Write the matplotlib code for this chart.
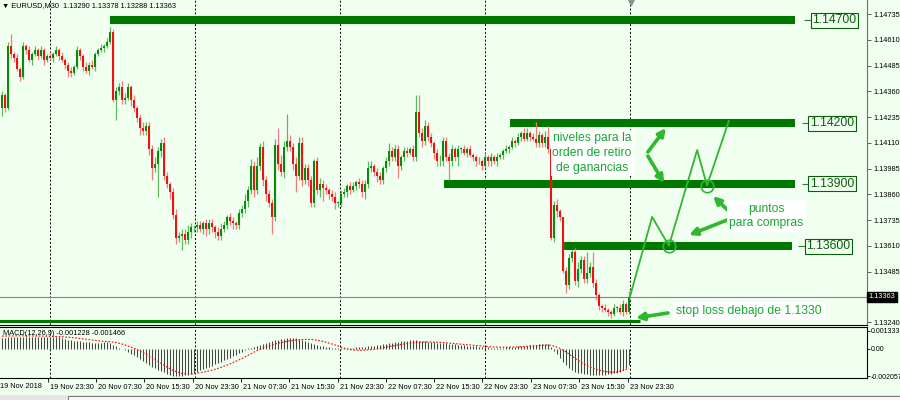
import numpy as np
import matplotlib
matplotlib.use('Agg')
import matplotlib.pyplot as plt
from matplotlib.transforms import ScaledTranslation
from matplotlib.patches import Rectangle

plt.rcParams['font.family'] = ['Liberation Sans', 'DejaVu Sans']

# ---------------------------------------------------------------------------
# Data (EURUSD M30), prices in pips above 1.1300
# ---------------------------------------------------------------------------
BASE = 1.1300
PIP = 0.0001

first_open = 128
close_pips = [
    134, 128, 158, 154, 152, 147, 143, 158, 156, 151, 154, 156, 153, 156, 151, 153, 152, 154, 156, 153,
    151, 149, 146, 145, 148, 156, 153, 148, 146, 149, 148, 154, 156, 157, 158, 160, 165, 132,
    136, 138, 132, 133, 138, 132, 128, 123, 118, 117, 119, 108, 99, 101, 107, 111, 95, 91, 87, 76,
    65, 66, 67, 64, 68, 70, 70, 71, 69, 72,
    69, 72, 70, 68, 66, 69, 71, 75, 73, 72, 71, 77, 79, 83, 88, 100, 88, 100, 109, 93,
    86, 82, 75, 110, 101, 97, 109, 112, 109, 101, 95, 111, 93,
    99, 93, 82, 102, 88, 91, 89, 88, 86, 85, 82, 82, 86, 87, 90, 88, 90, 92, 91, 87,
    91, 99, 100, 97, 95, 93, 99, 102, 107, 104, 108, 100, 104, 107, 106, 108, 104, 126,
    116, 112, 119, 114, 111, 106, 102, 102, 112, 104, 102, 108, 104, 108, 108, 106, 108, 105, 104, 102,
    102, 100, 104, 102, 104, 102, 104, 105, 107, 108, 109, 112, 111, 114, 116, 113, 116, 114, 113, 111,
    115, 111, 114, 108, 65,
    81, 78, 75, 49, 42, 55, 58, 44, 50, 54, 45, 48, 51, 43, 37, 32, 31, 30, 29, 28,
    31, 31, 29, 33, 29, 36.3,
]
upper_wick = [
    2, 1, 2, 6, 1, 2, 1, 2, 1, 2,  1, 2, 1, 2, 1, 1, 2, 1, 2, 1,
    2, 1, 1, 2, 1, 2, 1, 1, 2, 1,  2, 1, 1, 2, 1, 2, 2, 1, 2, 2,
    3, 2, 2, 1, 2, 1, 2, 3, 2, 2,  2, 3, 2, 2, 3, 2, 1, 2, 3, 2,
    2, 2, 3, 2, 1, 2, 2, 1, 2, 2,  2, 1, 2, 3, 2, 1, 2, 2, 1, 2,
    2, 3, 2, 3, 2, 4, 2, 3, 2, 2,  2, 3, 8, 4, 3, 13, 3, 2, 3, 3,
    3, 2, 2, 2, 1, 2, 3, 2, 2, 1,  2, 2, 1, 2, 2, 1, 2, 2, 1, 2,
    2, 2, 3, 2, 1, 2, 2, 1, 2, 4,  2, 2, 2, 1, 2, 2, 1, 2, 8, 8,
    2, 3, 2, 2, 1, 2, 3, 2, 2, 2,  2, 1, 2, 1, 2, 1, 2, 1, 1, 2,
    1, 2, 1, 2, 1, 2, 1, 1, 2, 1,  2, 1, 2, 1, 2, 2, 1, 2, 8, 2,
    1, 3, 5, 1, 2, 3, 1, 0, 2, 2,  1, 2, 3, 2, 2, 10, 2, 7, 2, 1,
    1, 2, 1, 1, 2, 1, 2, 2, 1, 3,
]
lower_wick = [
    4, 2, 1, 2, 2, 1, 2, 1, 2, 1,  2, 1, 2, 1, 2, 1, 1, 2, 1, 2,
    1, 2, 3, 2, 1, 1, 2, 2, 1, 2,  1, 2, 1, 1, 2, 1, 1, 1, 10, 2,
    2, 2, 1, 3, 2, 2, 3, 2, 2, 3,  6, 2, 16, 3, 2, 2, 3, 2, 3, 2,
    7, 2, 2, 3, 2, 2, 1, 2, 3, 2,  2, 3, 2, 2, 1, 2, 2, 3, 2, 2,
    2, 2, 3, 2, 3, 2, 2, 3, 3, 2,  8, 2, 3, 2, 3, 2, 2, 3, 8, 2,
    3, 2, 3, 2, 2, 2, 3, 6, 2, 2,  2, 3, 2, 2, 1, 2, 2, 1, 2, 2,
    2, 3, 2, 2, 2, 3, 2, 2, 2, 2,  2, 2, 6, 2, 2, 2, 1, 2, 2, 2,
    3, 2, 2, 2, 3, 2, 2, 2, 2, 9,  2, 2, 4, 2, 1, 2, 1, 2, 2, 1,
    2, 1, 2, 2, 1, 2, 1, 2, 1, 2,  1, 2, 1, 2, 1, 1, 2, 1, 2, 2,
    2, 2, 2, 1, 2, 3, 2, 1, 4, 2,  2, 2, 3, 2, 2, 2, 2, 2, 2, 2,
    2, 1, 2, 2, 1, 2, 1, 2, 1, 1,
]

# MACD(12,26,9) in units of 1e-5
macd_main = [
    80, 82, 85, 88, 90, 88, 86, 85, 86, 88, 88, 87, 86, 85, 85, 86, 88,
    90, 88, 85, 80, 75,
    68, 62, 58, 55, 55, 52, 50, 48,
    46, 45, 45, 46, 48, 50, 45,
    30, 18, 8, -2,
    -12, -25, -38, -50, -65, -78, -92, -108, -125, -138, -148, -158, -168, -178, -188, -196, -202, -206, -205, -204,
    -200, -195, -188, -180, -172, -163, -155, -146, -137, -128, -118, -108, -98, -88, -78, -67, -56, -45, -34, -22, -12,
    2, 8, 15, 22, 30, 38, 45, 52, 58, 63, 68, 72, 75, 78, 80, 80, 78, 74, 68, 60, 52, 44, 36, 28, 22,
    18, 14, 10, 8, 6, 5, 4, 4, 5, 6, 8, 10, 12, 14, 16,
    18, 20, 22, 25, 28, 32, 36, 40, 44, 48, 52, 55, 58, 60, 62, 63, 62, 60, 58, 56, 53, 50, 48, 46, 44, 42, 40, 38,
    35, 32, 30, 28, 26, 24, 22, 20, 18, 16, 14, 12, 10, 9, 8, 8, 8, 9, 10, 12, 14, 16, 18, 20, 22, 24,
    26, 28, 30, 32, 33, 34, 32,
    10, -15, -40, -70, -100, -125, -145, -160, -172, -180, -186, -190, -193, -195, -196, -197, -197, -196,
    -195, -193, -190, -186, -180, -172, -160, -145, -123,
]
macd_signal = [
    95, 95, 96, 96, 96, 97, 97, 97, 97, 96, 96, 96, 95, 95, 95, 94, 94,
    93, 92, 91, 90, 88, 86, 84, 82, 80, 77, 74, 71, 68, 65, 62, 60, 58, 56, 54, 52,
    50, 46, 41, 35, 28, 20, 12, 3, -7, -18, -30, -42, -55, -68, -82, -96, -110, -124, -138, -150,
    -162, -172, -180, -186, -189, -190,
    -190, -188, -185, -181, -177, -172, -167, -161, -155, -148, -140, -132, -123, -114, -104, -94, -84, -74,
    -62, -50, -38, -26, -15, -5, 5, 13, 21, 28, 35, 41, 46, 51, 55, 59, 62, 65, 67, 69,
    70, 70, 69, 67, 64, 60, 55, 49, 42, 35, 28, 20, 12, 5, -2, -6, -9, -11, -12, -12, -11,
    -9, -6, -3, 0, 4, 8, 12, 16, 20, 24, 28, 32, 36, 39, 42, 45, 47, 49, 50, 51, 51, 51, 50, 49, 48, 46, 44, 42,
    40, 38, 36, 34, 32, 30, 28, 26, 24, 22, 20, 18, 16, 14, 13, 12, 11, 11, 11, 11, 12, 13, 14, 15, 17, 18,
    20, 21, 23, 24, 26, 27, 28,
    26, 20, 12, 2, -10, -24, -40, -56, -72, -88, -102, -115, -127, -138, -147, -155, -162, -168,
    -172, -175, -177, -177, -175, -170, -164, -156, -147,
]

price_ticks = [1.14735, 1.14610, 1.14485, 1.14360, 1.14235, 1.14110, 1.13985,
               1.13860, 1.13735, 1.13610, 1.13485, 1.13240]
last_price = 1.13363
macd_ticks = [0.001333, 0.0, -0.002057]
macd_tick_labels = ['0.001333', '0.00', '-0.002057']

time_tick_idx = [15.3, 31.3, 47.3, 63.7, 79.7, 95.7, 112, 128, 144, 160, 176.3, 192.3, 208.7]
time_tick_labels = ['19 Nov 23:30', '20 Nov 07:30', '20 Nov 15:30', '20 Nov 23:30',
                    '21 Nov 07:30', '21 Nov 15:30', '21 Nov 23:30', '22 Nov 07:30',
                    '22 Nov 15:30', '22 Nov 23:30', '23 Nov 07:30', '23 Nov 15:30',
                    '23 Nov 23:30']
separator_idx = [16, 64.3, 112.7, 161, 209.3]

# niveles dibujados
level_labels = ['1.14700', '1.14200', '1.13900', '1.13600']
level_prices = [1.14705, 1.14205, 1.13912, 1.13608]
level_start = [36, 169.3, 147.3, 186.7]
level_end = [264.3, 264.3, 264.3, 263.3]
level_label_idx = [270, 269.3, 269.3, 268]
stop_line_price = 1.13245
stop_line_end = 212.7

# trayectoria esperada
path_idx = [209.3, 216.7, 222.3, 231.7, 235, 242.3]
path_price = [1.13363, 1.13751, 1.13611, 1.14075, 1.13903, 1.14217]
circle_idx = [222.3, 235]
circle_price = [1.13611, 1.13903]

# flechas: (cola, punta)
arrows = [
    ((215.3, 1.14066), (221.3, 1.14182)),
    ((215.3, 1.14046), (220.7, 1.13915)),
    ((244.3, 1.13751), (237.0, 1.13852)),
    ((244.3, 1.13751), (229.0, 1.13663)),
    ((222.0, 1.13285), (211.3, 1.13261)),
]

# ---------------------------------------------------------------------------
BG = '#F0FFF0'
BULL, BEAR = '#0A8A0A', '#F01010'
BULL_W, BEAR_W = '#5FB85F', '#F07C7C'
LEVEL = '#007800'
DRAW = '#2DB82D'
TXT = '#17A832'
FS = 5.3

closes = BASE + np.array(close_pips, dtype=float) * PIP
opens = np.concatenate([[BASE + first_open * PIP], closes[:-1]])
highs = np.maximum(opens, closes) + np.array(upper_wick) * PIP
lows = np.minimum(opens, closes) - np.array(lower_wick) * PIP
idx = np.arange(len(closes))
up = closes >= opens

fig = plt.figure(figsize=(9, 4), dpi=100, facecolor=BG)
ax = fig.add_axes([0, 75 / 400, 867 / 900, 325 / 400], facecolor=BG)
axm = fig.add_axes([0, 22 / 400, 867 / 900, 51 / 400], facecolor=BG)

for a in (ax, axm):
    a.set_xlim(-0.67, 288.33)
    a.spines['left'].set_visible(False)
    for s in separator_idx:
        a.axvline(s, color='black', lw=0.7, ls=(0, (2, 2)), zorder=1)

ax.spines['top'].set_visible(False)
ax.spines['right'].set_color('#707070')
ax.spines['bottom'].set_color('black')
ax.set_ylim(1.132268, 1.148030)

# velas
ax.vlines(idx, lows, highs, colors=np.where(up, BULL_W, BEAR_W), lw=0.9, zorder=3)
body = np.maximum(np.abs(closes - opens), 0.4 * PIP)
ax.bar(idx, body, bottom=np.minimum(opens, closes), width=0.62,
       color=np.where(up, BULL, BEAR), linewidth=0, zorder=4)

# niveles
for lab, p, s, e, li in zip(level_labels, level_prices, level_start, level_end, level_label_idx):
    ax.hlines(p, s, e, color=LEVEL, lw=5.8, zorder=2)
    ax.hlines(p, li - 2.7, li - 0.3, color='#2f7f2f', lw=0.8, zorder=2)
    ax.text(li, p, lab, ha='left', va='center', fontsize=8.8, color='#0B5D0B', zorder=6,
            bbox=dict(boxstyle='square,pad=0.12', fc=BG, ec='#0B5D0B', lw=0.8))
ax.hlines(stop_line_price, -1, stop_line_end, color=LEVEL, lw=2.2, zorder=2)

# linea bid y precio actual
ax.axhline(last_price, color='#8080A0', lw=0.8, zorder=2)
ax.text(1.002, last_price, f'{last_price:.5f}', transform=ax.get_yaxis_transform(),
        ha='left', va='center', fontsize=FS, color='white', clip_on=False, zorder=10,
        bbox=dict(boxstyle='square,pad=0.25', fc='black', ec='black'))

ax.yaxis.tick_right()
ax.set_yticks(price_ticks)
ax.set_yticklabels([f'{p:.5f}' for p in price_ticks])
ax.tick_params(axis='y', length=3, width=0.6, labelsize=FS, pad=1.5, color='#404040')
ax.set_xticks([])

# trayectoria y flechas
ax.plot(path_idx, path_price, color=DRAW, lw=1.3, zorder=7)
ax.plot(circle_idx, circle_price, 'o', ms=9, mfc='none', mec=DRAW, mew=1.2, zorder=7)
for (x0, y0), (x1, y1) in arrows:
    ax.annotate('', xy=(x1, y1), xytext=(x0, y0), zorder=7,
                arrowprops=dict(arrowstyle='-|>', color=DRAW, lw=2.6, mutation_scale=11,
                                shrinkA=0, shrinkB=0))

# textos
ax.text(196.7, 1.14061, 'niveles para la\norden de retiro\nde ganancias', ha='center', va='center',
        fontsize=8.7, color=TXT, linespacing=1.3, zorder=8,
        bbox=dict(boxstyle='square,pad=0.15', fc='white', ec='none'))
ax.text(254.7, 1.13755, 'puntos\npara compras', ha='center', va='center',
        fontsize=8.7, color=TXT, linespacing=1.3, zorder=8,
        bbox=dict(boxstyle='square,pad=0.2', fc='white', ec='none'))
ax.text(224.7, 1.13295, 'stop loss debajo de 1.1330', ha='left', va='center',
        fontsize=8.7, color=TXT, zorder=8,
        bbox=dict(boxstyle='square,pad=0.25', fc='white', ec='none'))

ax.plot([209.5], [1.14795], marker='v', ms=4, color='#909090', clip_on=False, zorder=9)

# MACD
axm.vlines(idx, 0, np.array(macd_main) * 1e-5, color='#454545', lw=0.75, zorder=3)
axm.plot(idx, np.array(macd_signal) * 1e-5, color='red', lw=0.8, ls=(0, (1.5, 1.5)), zorder=4)
axm.set_ylim(-0.002206, 0.001634)
axm.yaxis.tick_right()
axm.set_yticks(macd_ticks)
axm.set_yticklabels(macd_tick_labels)
axm.tick_params(axis='y', length=2, width=0.6, labelsize=5.0, pad=0.8)
axm.set_xticks(time_tick_idx)
axm.set_xticklabels(time_tick_labels)
axm.tick_params(axis='x', length=3, width=0.6, labelsize=FS, pad=1)
shift = ScaledTranslation(2 / 100, 0, fig.dpi_scale_trans)
for lab in axm.get_xticklabels():
    lab.set_ha('left')
    lab.set_transform(lab.get_transform() + shift)
axm.text(0.003, 0.88, 'MACD(12,26,9) -0.001228 -0.001466', transform=axm.transAxes,
         fontsize=FS, va='center', ha='left', zorder=5)

# cabecera y eje de tiempo
fig.text(2 / 900, 1 - 6 / 400, '\u25bc EURUSD,M30  1.13290 1.13378 1.13288 1.13363',
         fontsize=FS, va='center', ha='left')
fig.text(0, 1 - 387 / 400, '19 Nov 2018', fontsize=FS, va='center', ha='left')

# barra inferior
fig.add_artist(Rectangle((0, 0), 1, 5 / 400, transform=fig.transFigure,
                         fc='#E6E6E6', ec='none'))
fig.add_artist(Rectangle((68 / 900, 0), 832 / 900, 4 / 400, transform=fig.transFigure,
                         fc='#F8F8F8', ec='#606060', lw=0.6))

fig.savefig('out.png', dpi=100, facecolor=BG)
